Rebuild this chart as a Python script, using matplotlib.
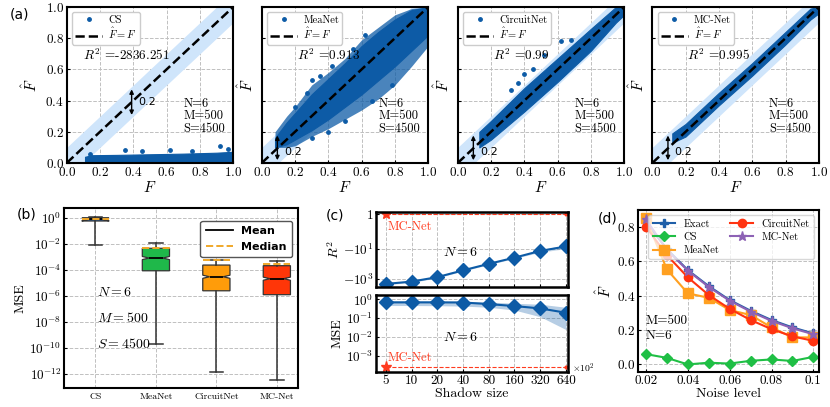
"""
Fidelity-estimation figure: (a) predicted vs true fidelity, (b) MSE boxes,
(c) CS vs shadow size, (d) fidelity vs noise level.
"""

import matplotlib

matplotlib.use("Agg")
import matplotlib.pyplot as plt
import numpy as np
from matplotlib.lines import Line2D

plt.rcParams.update({
    "font.family": "serif",
    "font.serif": ["cmr10", "DejaVu Serif"],
    "mathtext.fontset": "cm",
    "axes.formatter.use_mathtext": True,
    "axes.unicode_minus": False,
    "axes.linewidth": 1.5,
    "xtick.direction": "in",
    "ytick.direction": "in",
})

# ---------------- data ----------------
# (a) dot clouds, read off as envelopes (x, lower, upper) plus a few stray dots
a_models = ["CS", "MeaNet", "CircuitNet", "MC-Net"]
a_r2 = ["-2836.251", "0.913", "0.99", "0.995"]

cs_x = [0.11, 0.15, 0.3, 0.5, 0.7, 0.9, 1.0]
cs_lo = [0.0, 0.0, 0.0, 0.0, 0.0, 0.0, 0.0]
cs_hi = [0.04, 0.05, 0.052, 0.056, 0.06, 0.066, 0.072]
cs_dots_x = [0.14, 0.35, 0.45, 0.62, 0.75, 0.92, 0.97]
cs_dots_y = [0.06, 0.085, 0.075, 0.085, 0.08, 0.11, 0.09]

mea_x = [0.08, 0.15, 0.2, 0.3, 0.4, 0.5, 0.6, 0.7, 0.8, 0.9, 1.0]
mea_lo = [0.1, 0.1, 0.11, 0.17, 0.22, 0.28, 0.34, 0.41, 0.5, 0.62, 0.75]
mea_hi = [0.2, 0.3, 0.36, 0.5, 0.58, 0.67, 0.79, 0.87, 0.95, 0.99, 1.0]
mea_core_lo = [0.1, 0.12, 0.15, 0.21, 0.28, 0.36, 0.44, 0.53, 0.62, 0.72, 0.82]
mea_core_hi = [0.16, 0.26, 0.32, 0.44, 0.54, 0.64, 0.75, 0.84, 0.92, 0.98, 1.0]
mea_dots_x = [0.3, 0.27, 0.35, 0.2, 0.42, 0.55, 0.62, 0.5, 0.66, 0.78, 0.3, 0.4]
mea_dots_y = [0.53, 0.45, 0.56, 0.36, 0.62, 0.73, 0.82, 0.27, 0.4, 0.5, 0.16, 0.2]

cir_x = [0.13, 0.2, 0.4, 0.6, 0.8, 0.95, 1.0]
cir_lo = [0.1, 0.15, 0.33, 0.52, 0.72, 0.9, 0.95]
cir_hi = [0.2, 0.27, 0.48, 0.67, 0.86, 1.0, 1.0]
cir_dots_x = [0.32, 0.36, 0.4, 0.45, 0.52, 0.62, 0.68, 0.83]
cir_dots_y = [0.47, 0.51, 0.57, 0.6, 0.69, 0.78, 0.79, 0.83]

mc_x = [0.12, 0.2, 0.4, 0.6, 0.8, 0.95, 1.0]
mc_lo = [0.13, 0.17, 0.37, 0.56, 0.76, 0.92, 0.96]
mc_hi = [0.19, 0.25, 0.45, 0.64, 0.84, 0.99, 1.0]

# (b) log10(MSE) box statistics
b_names = ["CS", "MeaNet", "CircuitNet", "MC-Net"]
b_colors = ["#2f6db5", "#1fb84a", "#ff9c0a", "#ff3608"]
b_q1 = [-0.25, -4.08, -5.62, -5.92]
b_q3 = [0.0, -2.35, -3.64, -3.69]
b_med = [-0.12, -3.1, -4.54, -4.69]
b_mean = [-0.12, -2.3, -3.28, -3.54]
b_lo = [-2.1, -9.7, -11.85, -12.48]
b_hi = [0.06, -1.97, -3.23, -3.31]

# (c) CS vs shadow size (x10^2)
shadow = [5, 10, 20, 40, 80, 160, 320, 640]
r2_cs = [-2200, -1535, -764, -268, -97, -37, -13, -6.5]
r2_lo = [-2500, -1750, -870, -300, -110, -42, -16, -9]
r2_hi = [-1900, -1350, -680, -240, -86, -33, -11, -5]
mse_cs = [0.69, 0.69, 0.69, 0.68, 0.56, 0.44, 0.33, 0.195]
mse_lo = [0.47, 0.47, 0.46, 0.44, 0.38, 0.27, 0.12, 0.025]
mse_hi = [0.85, 0.85, 0.83, 0.8, 0.72, 0.62, 0.55, 0.38]
mc_r2 = 0.995
mc_mse = 2.7e-4

# (d) fidelity vs noise level
noise = [0.02, 0.03, 0.04, 0.05, 0.06, 0.07, 0.08, 0.09, 0.1]
f_exact = [0.826, 0.67, 0.548, 0.455, 0.374, 0.312, 0.258, 0.215, 0.18]
f_cs = [0.06, 0.038, 0.0, 0.01, 0.005, 0.021, 0.029, 0.02, 0.044]
f_mea = [0.849, 0.552, 0.413, 0.387, 0.316, 0.287, 0.215, 0.157, 0.157]
f_cir = [0.80, 0.635, 0.506, 0.403, 0.323, 0.258, 0.205, 0.163, 0.137]
f_mc = [0.843, 0.665, 0.545, 0.45, 0.37, 0.307, 0.253, 0.21, 0.175]

BLUE = "#0d5ba6"
RED = "#ff3b1f"
W, H = 830, 407


def rect(l, t, r, b):
    return [l / W, 1 - b / H, (r - l) / W, (b - t) / H]


def grid(ax):
    ax.grid(True, ls="--", color="#c0c0c0", lw=0.7)
    ax.set_axisbelow(True)


fig = plt.figure(figsize=(W / 100, H / 100), dpi=100)

# ---------------- (a) ----------------
a_left = [66.7, 261.7, 457.7, 652.3]
clouds = [
    (cs_x, cs_lo, cs_hi, None, None, cs_dots_x, cs_dots_y),
    (mea_x, mea_lo, mea_hi, mea_core_lo, mea_core_hi, mea_dots_x, mea_dots_y),
    (cir_x, cir_lo, cir_hi, None, None, cir_dots_x, cir_dots_y),
    (mc_x, mc_lo, mc_hi, None, None, [], []),
]
line_x = np.array([0.0, 1.0])
for i, l in enumerate(a_left):
    ax = fig.add_axes(rect(l, 7, l + 166.5, 163))
    grid(ax)
    ax.fill_between(line_x, line_x - 0.1, line_x + 0.1, color="#cfe5fb", lw=0, zorder=1)
    cx, lo, hi, clo, chi, dx, dy = clouds[i]
    if clo is None:
        ax.fill_between(cx, lo, hi, color=BLUE, lw=0.8, ec=BLUE, zorder=2)
    else:
        ax.fill_between(cx, lo, hi, color=BLUE, alpha=0.75, lw=0, zorder=2)
        ax.fill_between(cx, clo, chi, color=BLUE, lw=0.8, ec=BLUE, zorder=2)
    ax.scatter(dx, dy, s=6, color=BLUE, zorder=2)
    ax.plot(line_x, line_x, "k--", lw=1.8, zorder=3)
    ax.set_xlim(0, 1)
    ax.set_ylim(0, 1)
    ax.set_xticks(np.arange(0, 1.01, 0.2))
    ax.set_yticks(np.arange(0, 1.01, 0.2))
    ax.tick_params(labelsize=9.5, length=2, pad=2)
    if i > 0:
        ax.set_yticklabels([])
    ax.set_xlabel("$F$", fontsize=11, labelpad=1)
    ax.set_ylabel(r"$\hat{F}$", fontsize=11, labelpad=2 if i > 0 else 4)
    hs = [Line2D([], [], ls="", marker="o", ms=2.5, color=BLUE),
          Line2D([], [], ls="--", color="k", lw=1.8)]
    ax.legend(hs, [a_models[i], r"$\hat{F}=F$"], loc="upper left", fontsize=7.5,
              handlelength=2.6, borderpad=0.3, labelspacing=0.15, handletextpad=0.6,
              framealpha=1, edgecolor="#cccccc", bbox_to_anchor=(0.0, 1.0))
    ax.text(0.1 if i == 0 else 0.21, 0.69, f"$R^2$ ={a_r2[i]}", transform=ax.transAxes,
            fontsize=9.5, va="center")
    ax.text(0.7, 0.42, "N=6\nM=500\nS=4500", transform=ax.transAxes, fontsize=9,
            va="top", linespacing=1.05)
    ax_x = 0.39 if i == 0 else 0.094
    ax.annotate("", xy=(ax_x, ax_x - 0.1 if i == 0 else 0.0), xytext=(ax_x, ax_x + 0.1),
                arrowprops=dict(arrowstyle="<|-|>", color="k", lw=1, mutation_scale=6),
                zorder=4)
    ax.text(ax_x + 0.04, (ax_x if i == 0 else 0.07), "0.2", fontsize=8,
            family="DejaVu Sans", va="center")
fig.text(10 / W, 1 - 14 / H, "(a)", family="DejaVu Sans", fontsize=10, va="center")

# ---------------- (b) ----------------
ax = fig.add_axes(rect(64, 208, 298, 388))
grid(ax)
stats = []
for k in range(4):
    stats.append(dict(label=b_names[k], med=10 ** b_med[k], q1=10 ** b_q1[k],
                      q3=10 ** b_q3[k], whislo=10 ** b_lo[k], whishi=10 ** b_hi[k],
                      mean=10 ** b_mean[k], cilo=10 ** (b_med[k] - 0.12),
                      cihi=10 ** (b_med[k] + 0.12), fliers=[]))
bp = ax.bxp(stats, positions=[1, 2, 3, 4], widths=0.45, patch_artist=True,
            shownotches=True, showmeans=True, meanline=True, showfliers=False,
            medianprops=dict(color="k", lw=1.3),
            meanprops=dict(color="#f0a82a", ls="--", lw=1.4),
            whiskerprops=dict(color="#333333", lw=1.1),
            capprops=dict(color="#333333", lw=1.1),
            boxprops=dict(edgecolor="#333333", lw=0.9))
for patch, c in zip(bp["boxes"], b_colors):
    patch.set_facecolor(c)
ax.set_yscale("log")
ax.set_ylim(10 ** -13.1, 10 ** 0.75)
ax.set_xlim(0.48, 4.35)
ax.set_yticks([10.0 ** e for e in range(0, -13, -2)])
ax.minorticks_off()
ax.tick_params(axis="y", labelsize=9.5, length=2, pad=2)
ax.tick_params(axis="x", labelsize=7, length=0, pad=3)
ax.set_ylabel("MSE", fontsize=10, labelpad=2)
for txt, yy in [("$N=6$", 0.53), ("$M=500$", 0.39), ("$S=4500$", 0.245)]:
    ax.text(0.14, yy, txt, transform=ax.transAxes, fontsize=10, va="center")
hb = [Line2D([], [], color="k", lw=1.3), Line2D([], [], color="#f0a82a", ls="--", lw=1.4)]
ax.legend(hb, ["Mean", "Median"], loc="upper right", bbox_to_anchor=(1.0, 0.96),
          prop=dict(family="DejaVu Sans", weight="bold", size=8), handlelength=2.4,
          framealpha=1, edgecolor="#555555", borderpad=0.5)
fig.text(17 / W, 1 - 215 / H, "(b)", family="DejaVu Sans", fontsize=10, va="center")

# ---------------- (c) ----------------
ax1 = fig.add_axes(rect(376, 212, 568, 287))
ax2 = fig.add_axes(rect(376, 295, 568, 372))
for axc in (ax1, ax2):
    grid(axc)
    axc.set_xscale("log", base=2)
    axc.set_xlim(3.84, 676)
    axc.set_xticks(shadow)
    axc.minorticks_off()
    for s in axc.spines.values():
        s.set_linewidth(1.8)
    axc.tick_params(labelsize=9.5, length=2, pad=2)

ax1.fill_between(shadow, r2_lo, r2_hi, color=BLUE, alpha=0.25, lw=0)
ax1.plot(shadow, r2_cs, color=BLUE, marker="D", ms=7.5, lw=1.5)
ax1.plot([shadow[0], shadow[-1]], [mc_r2, mc_r2], ls="--", color=RED, lw=0.8)
ax1.plot(shadow[-1], mc_r2, "o", color=RED, ms=2)
ax1.plot(shadow[0], mc_r2, "*", color=RED, ms=8)
ax1.text(5.2, mc_r2 * 0.35, "MC-Net", color=RED, fontsize=9, va="top")
ax1.set_yscale("symlog", linthresh=1, linscale=0.63)
ax1.set_ylim(-3550, 1.3)
ax1.set_yticks([1, -10, -1000])
ax1.set_yticklabels(["$1$", "$-10^1$", "$-10^3$"])
ax1.minorticks_off()
ax1.set_xticklabels([])
ax1.set_ylabel("$R^2$", fontsize=10, labelpad=1)
ax1.text(0.35, 0.46, "$N=6$", transform=ax1.transAxes, fontsize=10, va="center")

ax2.fill_between(shadow, mse_lo, mse_hi, color=BLUE, alpha=0.3, lw=0)
ax2.plot(shadow, mse_cs, color=BLUE, marker="D", ms=7.5, lw=1.5)
ax2.plot([shadow[0], shadow[-1]], [mc_mse, mc_mse], ls="--", color=RED, lw=0.8)
ax2.plot(shadow[-1], mc_mse, "o", color=RED, ms=2)
ax2.plot(shadow[0], mc_mse, "*", color=RED, ms=8)
ax2.text(5.2, mc_mse * 1.4, "MC-Net", color=RED, fontsize=9, va="bottom")
ax2.set_yscale("log")
ax2.set_ylim(10 ** -3.85, 10 ** 0.23)
ax2.set_yticks([1, 0.1, 0.01, 0.001])
ax2.minorticks_off()
ax2.set_xticklabels([str(s) for s in shadow])
ax2.set_xlabel("Shadow size", fontsize=10, labelpad=1)
ax2.set_ylabel("MSE", fontsize=10, labelpad=2)
ax2.text(0.35, 0.45, "$N=6$", transform=ax2.transAxes, fontsize=10, va="center")
ax2.text(1.02, 0.05, r"$\times10^2$", transform=ax2.transAxes, fontsize=7, va="center")
fig.text(326 / W, 1 - 216 / H, "(c)", family="DejaVu Sans", fontsize=10, va="center")

# ---------------- (d) ----------------
ax = fig.add_axes(rect(638, 210, 819, 372))
grid(ax)
ax.plot(noise, f_exact, color="#1f5fa8", marker="P", ms=6, lw=1.5, label="Exact")
ax.plot(noise, f_cs, color="#1fbf45", marker="D", ms=5.5, lw=1.5, label="CS")
ax.plot(noise, f_mea, color="#ffa020", marker="s", ms=6.5, lw=1.5, label="MeaNet")
ax.plot(noise, f_cir, color="#ff3311", marker="o", ms=6, lw=1.5, label="CircuitNet")
ax.plot(noise, f_mc, color="#8d62b5", marker="*", ms=6.5, lw=1.5, label="MC-Net")
ax.set_xlim(0.0162, 0.1027)
ax.set_ylim(-0.044, 0.897)
ax.set_xticks([0.02, 0.04, 0.06, 0.08, 0.1])
ax.set_xticklabels(["0.02", "0.04", "0.06", "0.08", "0.1"])
ax.set_yticks([0.0, 0.2, 0.4, 0.6, 0.8])
ax.tick_params(labelsize=9.5, length=2, pad=2)
ax.set_xlabel("Noise level", fontsize=10, labelpad=1)
ax.set_ylabel(r"$\hat{F}$", fontsize=11, labelpad=2)
ax.legend(ncol=2, loc="upper right", fontsize=7.5, handlelength=2.2,
          columnspacing=1.0, labelspacing=0.35, borderpad=0.4, framealpha=0.75,
          edgecolor="#cccccc")
ax.text(0.04, 0.27, "M=500\nN=6", transform=ax.transAxes, fontsize=9.5, va="center",
        linespacing=1.3)
fig.text(598 / W, 1 - 218 / H, "(d)", family="DejaVu Sans", fontsize=10, va="center")

fig.savefig("out.png", dpi=100)
